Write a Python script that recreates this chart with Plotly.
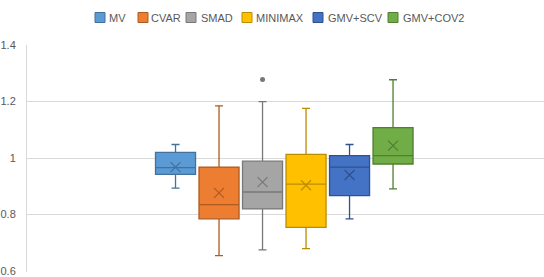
import plotly.graph_objects as go

series = ["MV", "CVAR", "SMAD", "MINIMAX", "GMV+SCV", "GMV+COV2"]
lower_whisker = [0.894, 0.655, 0.675, 0.680, 0.785, 0.891]
q1 = [0.942, 0.785, 0.820, 0.755, 0.867, 0.979]
median = [0.966, 0.835, 0.880, 0.908, 0.968, 1.009]
q3 = [1.020, 0.968, 0.989, 1.013, 1.009, 1.108]
upper_whisker = [1.048, 1.185, 1.200, 1.176, 1.048, 1.277]
means = [0.968, 0.877, 0.915, 0.904, 0.940, 1.044]
outliers = [[], [], [1.278], [], [], []]

fill_colors = ["#5B9BD5", "#ED7D31", "#A5A5A5", "#FFC000", "#4472C4", "#70AD47"]
line_colors = ["#41719C", "#AE5A21", "#787878", "#BC8C00", "#2F528F", "#507E32"]

y_ticks = [0.6, 0.8, 1.0, 1.2, 1.4]
y_tick_labels = ["0.6", "0.8", "1", "1.2", "1.4"]

W, H = 544, 277
ML, MR, MT, MB = 27, 0, 45, 5
PW, PH = W - ML - MR, H - MT - MB
# legend layout (pixel positions of swatches and labels)
legend_sq_px = [95, 138, 186, 242, 313, 388]
legend_txt_px = [108, 150, 200, 255, 327, 402]
legend_y_px = 17.5
sq = 10

def px_x(p):
    return (p - ML) / PW

def px_y(p):
    return (H - MB - p) / PH

fig = go.Figure()
for i, name in enumerate(series):
    fig.add_trace(go.Box(
        name=name,
        x=[i],
        q1=[q1[i]], median=[median[i]], q3=[q3[i]],
        lowerfence=[lower_whisker[i]], upperfence=[upper_whisker[i]],
        fillcolor=fill_colors[i],
        line=dict(color=line_colors[i], width=1.3),
        width=0.92,
        whiskerwidth=0.2,
        boxpoints=False,
        hoverinfo="skip",
        showlegend=False,
    ))
for i, name in enumerate(series):
    fig.add_trace(go.Scatter(
        x=[i], y=[means[i]], mode="markers", name=name + " mean",
        marker=dict(symbol="x-thin", size=10, line=dict(color=line_colors[i], width=1.2)),
        showlegend=False, hoverinfo="skip",
    ))
    if outliers[i]:
        fig.add_trace(go.Scatter(
            x=[i] * len(outliers[i]), y=outliers[i], mode="markers", name=name + " outlier",
            marker=dict(symbol="circle", size=5, color=line_colors[i]),
            showlegend=False, hoverinfo="skip",
        ))

# legend drawn as swatches + labels
for i, name in enumerate(series):
    fig.add_shape(type="rect", xref="paper", yref="paper",
                  x0=px_x(legend_sq_px[i]), x1=px_x(legend_sq_px[i] + sq),
                  y0=px_y(legend_y_px + sq / 2), y1=px_y(legend_y_px - sq / 2),
                  fillcolor=fill_colors[i], line=dict(color=line_colors[i], width=1))
    fig.add_annotation(xref="paper", yref="paper", x=px_x(legend_txt_px[i]), y=px_y(legend_y_px),
                       xanchor="left", yanchor="middle", text=name, showarrow=False,
                       font=dict(size=11, color="#595959"), borderpad=0)

fig.update_layout(
    width=W, height=H,
    margin=dict(l=ML, r=MR, t=MT, b=MB),
    paper_bgcolor="white", plot_bgcolor="white",
    font=dict(family="Liberation Sans", size=11, color="#595959"),
    showlegend=False,
    xaxis=dict(range=[-3.414, 8.47], showticklabels=False, showgrid=False,
               zeroline=False, showline=False, ticks=""),
    yaxis=dict(range=[0.597, 1.4], tickvals=y_ticks, ticktext=y_tick_labels,
               showgrid=True, gridcolor="#D9D9D9", gridwidth=1,
               zeroline=False, showline=True, linecolor="#D9D9D9", linewidth=1,
               ticks="", ticklabelstandoff=8),
)

fig.write_html("out.html", post_script="document.body.style.margin='0';",
               config={"displayModeBar": False})
